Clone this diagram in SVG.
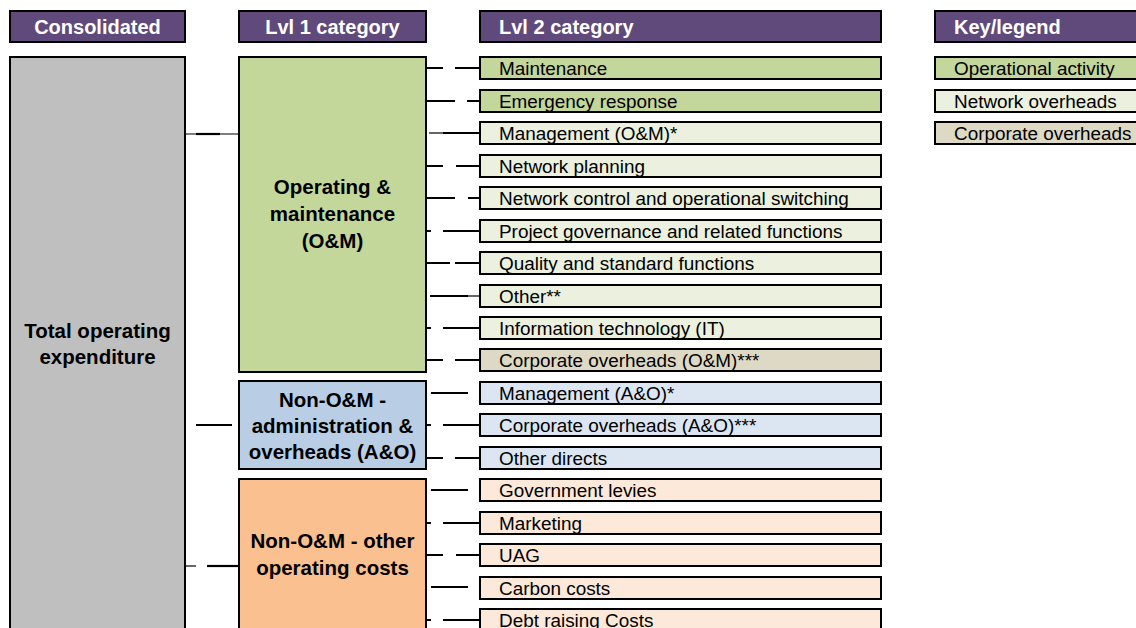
<svg xmlns="http://www.w3.org/2000/svg" width="1136" height="628" viewBox="0 0 1136 628">
  <style>
    .hdr { fill: #604a7b; stroke: #000; stroke-width: 2; }
    .hdrt { fill: #fff; font-family: "Liberation Sans", Arial, sans-serif; font-weight: bold; font-size: 20px; }
    .box { stroke: #000; stroke-width: 2; }
    .bt { fill: #000; font-family: "Liberation Sans", Arial, sans-serif; font-weight: bold; font-size: 20.5px; text-anchor: middle; }
    .rt { fill: #000; font-family: "Liberation Sans", Arial, sans-serif; font-size: 18.9px; }
    .op { fill: #c3d69b; }
    .nw { fill: #ebf1de; }
    .co { fill: #ddd9c4; }
    .ad { fill: #dce6f2; }
    .ot { fill: #fde9d9; }
    .thick { stroke: #000; stroke-width: 2.2; fill: none; }
    .thin { stroke: #000; stroke-width: 1.2; fill: none; }
  </style>

  <!-- column headers -->
  <g id="headers">
    <rect class="hdr" x="10" y="11" width="175" height="31"/>
    <text class="hdrt" x="97.5" y="34" text-anchor="middle">Consolidated</text>
    <rect class="hdr" x="239" y="11" width="187" height="31"/>
    <text class="hdrt" x="332.5" y="34" text-anchor="middle">Lvl 1 category</text>
    <rect class="hdr" x="480" y="11" width="401" height="31"/>
    <text class="hdrt" x="499" y="34">Lvl 2 category</text>
    <rect class="hdr" x="935" y="11" width="210" height="31"/>
    <text class="hdrt" x="954" y="34">Key/legend</text>
  </g>

  <!-- consolidated total -->
  <g id="total">
    <rect class="box" x="10" y="57" width="175" height="590" fill="#bfbfbf"/>
    <text class="bt" x="97.5" y="338">Total operating</text>
    <text class="bt" x="97.5" y="364">expenditure</text>
  </g>

  <!-- level 1 categories -->
  <g id="om">
    <rect class="box" x="239" y="57" width="187" height="315" fill="#c4d79b"/>
    <text class="bt" x="332.5" y="194">Operating &amp;</text>
    <text class="bt" x="332.5" y="221">maintenance</text>
    <text class="bt" x="332.5" y="248">(O&amp;M)</text>
  </g>
  <g id="ao">
    <rect class="box" x="239" y="381" width="187" height="88" fill="#b9cde5"/>
    <text class="bt" x="332.5" y="407">Non-O&amp;M -</text>
    <text class="bt" x="332.5" y="433">administration &amp;</text>
    <text class="bt" x="332.5" y="459">overheads (A&amp;O)</text>
  </g>
  <g id="other">
    <rect class="box" x="239" y="479" width="187" height="170" fill="#fac090"/>
    <text class="bt" x="332.5" y="548">Non-O&amp;M - other</text>
    <text class="bt" x="332.5" y="575">operating costs</text>
  </g>

  <!-- level 2 categories -->
  <g id="maintenance"><rect class="box op" x="480" y="57" width="401" height="22"/><text class="rt" x="499" y="75">Maintenance</text></g>
  <g id="emergency"><rect class="box op" x="480" y="90" width="401" height="22"/><text class="rt" x="499" y="108">Emergency response</text></g>
  <g id="mgmt-om"><rect class="box nw" x="480" y="122" width="401" height="22"/><text class="rt" x="499" y="140">Management (O&amp;M)*</text></g>
  <g id="planning"><rect class="box nw" x="480" y="155" width="401" height="22"/><text class="rt" x="499" y="173">Network planning</text></g>
  <g id="control"><rect class="box nw" x="480" y="187" width="401" height="22"/><text class="rt" x="499" y="205">Network control and operational switching</text></g>
  <g id="governance"><rect class="box nw" x="480" y="220" width="401" height="22"/><text class="rt" x="499" y="238">Project governance and related functions</text></g>
  <g id="quality"><rect class="box nw" x="480" y="252" width="401" height="22"/><text class="rt" x="499" y="270">Quality and standard functions</text></g>
  <g id="other-om"><rect class="box nw" x="480" y="285" width="401" height="22"/><text class="rt" x="499" y="303">Other**</text></g>
  <g id="it"><rect class="box nw" x="480" y="317" width="401" height="22"/><text class="rt" x="499" y="335">Information technology (IT)</text></g>
  <g id="corp-om"><rect class="box co" x="480" y="349" width="401" height="22"/><text class="rt" x="499" y="367">Corporate overheads (O&amp;M)***</text></g>
  <g id="mgmt-ao"><rect class="box ad" x="480" y="382" width="401" height="22"/><text class="rt" x="499" y="400">Management (A&amp;O)*</text></g>
  <g id="corp-ao"><rect class="box ad" x="480" y="414" width="401" height="22"/><text class="rt" x="499" y="432">Corporate overheads (A&amp;O)***</text></g>
  <g id="directs"><rect class="box ad" x="480" y="447" width="401" height="22"/><text class="rt" x="499" y="465">Other directs</text></g>
  <g id="levies"><rect class="box ot" x="480" y="479" width="401" height="22"/><text class="rt" x="499" y="497">Government levies</text></g>
  <g id="marketing"><rect class="box ot" x="480" y="512" width="401" height="22"/><text class="rt" x="499" y="530">Marketing</text></g>
  <g id="uag"><rect class="box ot" x="480" y="544" width="401" height="22"/><text class="rt" x="499" y="562">UAG</text></g>
  <g id="carbon"><rect class="box ot" x="480" y="577" width="401" height="22"/><text class="rt" x="499" y="595">Carbon costs</text></g>
  <g id="debt"><rect class="box ot" x="480" y="609" width="401" height="22"/><text class="rt" x="499" y="627">Debt raising Costs</text></g>

  <!-- legend -->
  <g id="legend">
    <rect class="box op" x="935" y="57" width="210" height="22"/><text class="rt" x="954" y="75">Operational activity</text>
    <rect class="box nw" x="935" y="90" width="210" height="22"/><text class="rt" x="954" y="108">Network overheads</text>
    <rect class="box co" x="935" y="122" width="210" height="22"/><text class="rt" x="954" y="140">Corporate overheads</text>
  </g>

  <!-- connectors -->
  <g id="connectors">
    <path class="thin" d="M185 134H196M220 134H239"/>
    <path class="thick" d="M196 134H220"/>
    <path class="thick" d="M196 425H232"/>
    <path class="thin" d="M185 566H196"/>
    <path class="thick" d="M207 566H239"/>

    <path class="thick" d="M426 68H443M455 68H480"/>
    <path class="thick" d="M426 101H455M467 101H480"/>
    <path class="thin" d="M429 133H443"/><path class="thick" d="M443 133H480"/>
    <path class="thick" d="M426 166H443M456 166H480"/>
    <path class="thick" d="M426 198H455M468 198H480"/>
    <path class="thick" d="M426 231H431M443 231H480"/>
    <path class="thick" d="M426 263H450M455 263H480"/>
    <path class="thick" d="M430 296H468"/><path class="thin" d="M468 296H480"/>
    <path class="thick" d="M426 328H431M443 328H480"/>
    <path class="thick" d="M426 360H443M455 360H480"/>
    <path class="thick" d="M431 393H468"/>
    <path class="thick" d="M426 425H431M443 425H480"/>
    <path class="thick" d="M426 458H443M455 458H480"/>
    <path class="thick" d="M431 490H468"/>
    <path class="thick" d="M426 523H431M443 523H480"/>
    <path class="thick" d="M426 555H443M456 555H480"/>
    <path class="thick" d="M431 587H468"/>
    <path class="thick" d="M426 620H431M443 620H480"/>
  </g>
</svg>
